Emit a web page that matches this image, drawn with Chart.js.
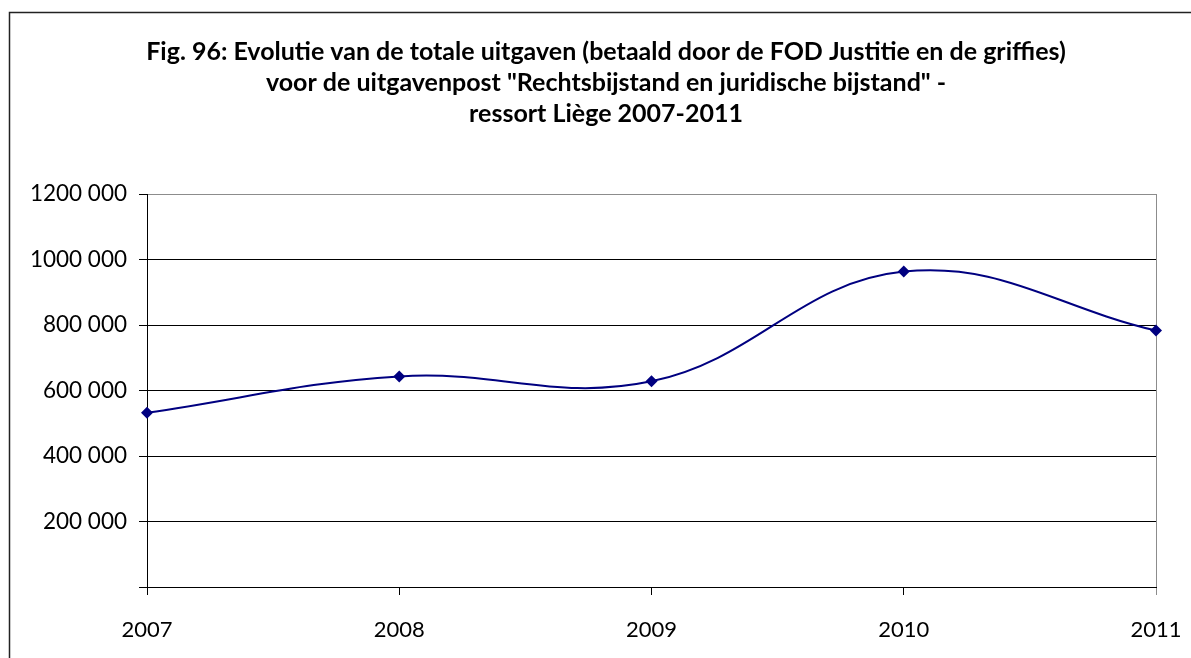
<!DOCTYPE html>
<html>
<head>
<meta charset="utf-8">
<script src="https://cdn.jsdelivr.net/npm/chart.js@4.4.0/dist/chart.umd.min.js"></script>
<style>
  html, body { margin: 0; padding: 0; background: #fff; }
  #wrap { width: 1191px; height: 658px; }
</style>
</head>
<body>
<div id="wrap"><canvas id="uitgavenChart" width="1191" height="658"></canvas></div>
<script>
const years = ['2007', '2008', '2009', '2010', '2011'];
const uitgaven = [532000, 643000, 628000, 963000, 783000];
const yTicks = [0, 200000, 400000, 600000, 800000, 1000000, 1200000];
const titleLines = [
    'Fig. 96: Evolutie van de totale uitgaven (betaald door de FOD Justitie en de griffies)',
    'voor de uitgavenpost "Rechtsbijstand en juridische bijstand" -',
    'ressort Liège 2007-2011'
];

// "1200 000" style: only the last group of three digits is separated
function formatAmount(v) {
    if (v === 0) return '';
    const thousands = Math.floor(v / 1000);
    const rest = String(v % 1000).padStart(3, '0');
    return thousands + ' ' + rest;
}

// frame around the whole chart (left and top edges are visible)
const frame = {
    id: 'frame',
    beforeDraw(chart) {
        const c = chart.ctx;
        c.save();
        c.fillStyle = '#fff';
        c.fillRect(0, 0, chart.width, chart.height);
        c.strokeStyle = '#222';
        c.lineWidth = 1.5;
        c.beginPath();
        c.moveTo(9.5, chart.height + 5);
        c.lineTo(9.5, 12.5);
        c.lineTo(chart.width + 5, 12.5);
        c.stroke();
        c.restore();
    }
};

const ctx = document.getElementById('uitgavenChart').getContext('2d');

new Chart(ctx, {
    type: 'line',
    data: {
        labels: years,
        datasets: [{
            data: uitgaven,
            borderColor: '#000080',
            backgroundColor: '#000080',
            borderWidth: 2,
            tension: 0.4,
            pointStyle: 'rectRot',
            pointRadius: 6,
            pointBorderWidth: 0,
            pointBackgroundColor: '#000080',
            fill: false
        }]
    },
    options: {
        responsive: false,
        animation: false,
        layout: { padding: { left: 21, right: 0, top: 0, bottom: 0 } },
        plugins: {
            legend: { display: false },
            tooltip: { enabled: false },
            title: {
                display: true,
                text: titleLines,
                color: '#000',
                font: { family: 'Lato', size: 25, weight: 'bold', lineHeight: '31px' },
                padding: { top: 36, bottom: 65 }
            }
        },
        scales: {
            x: {
                offset: false,
                afterFit(scale) {
                    scale.height = 71;
                    scale.paddingLeft = 0;
                    scale.paddingRight = 35;
                },
                grid: {
                    drawOnChartArea: true,
                    tickLength: 8,
                    color: (c) => c.index === years.length - 1 ? '#8c8c8c' : 'rgba(0,0,0,0)',
                    tickColor: (c) => c.index === years.length - 1 ? '#8c8c8c' : '#000'
                },
                border: { color: '#000', width: 1 },
                ticks: {
                    color: '#000',
                    padding: 22,
                    maxRotation: 0,
                    font: { family: 'Lato', size: 22 }
                }
            },
            y: {
                min: 0,
                max: 1200000,
                afterFit(scale) { scale.width = 126; },
                afterBuildTicks(scale) { scale.ticks = yTicks.map(v => ({ value: v })); },
                grid: {
                    tickLength: 8,
                    color: (c) => c.tick && c.tick.value === 1200000 ? '#8c8c8c' : '#000',
                    tickColor: '#000'
                },
                border: { color: '#000', width: 1 },
                ticks: {
                    color: '#000',
                    padding: 12,
                    font: { family: 'Lato', size: 22.5 },
                    callback: (v) => formatAmount(v)
                }
            }
        }
    },
    plugins: [frame]
});
</script>
</body>
</html>
